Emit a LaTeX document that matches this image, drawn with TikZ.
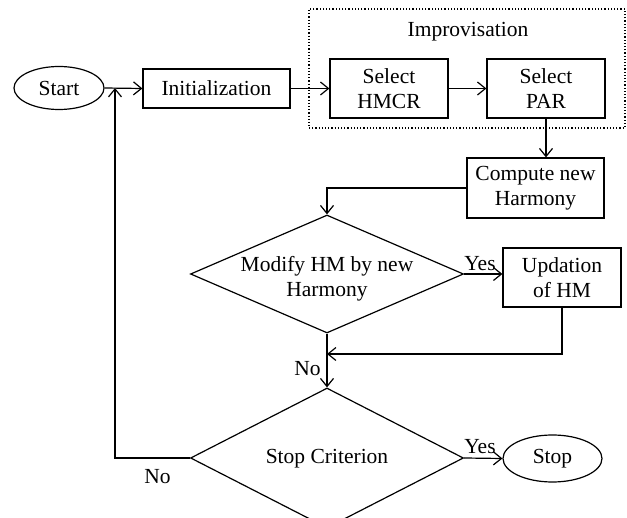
\documentclass[tikz,border=0pt]{standalone}
\usepackage{fontspec}
\setmainfont{Liberation Serif}
\usetikzlibrary{arrows.meta,shapes.geometric}
\tikzset{
  every node/.style={font=\fontsize{21.5}{25}\selectfont, align=center, inner sep=0pt},
  box/.style={draw, line width=1.2pt, rectangle},
  oval/.style={draw, line width=1.2pt, ellipse},
  dia/.style={draw, line width=1.2pt, diamond},
  conn/.style={line width=1.2pt, -{Straight Barb[length=8pt,width=13pt,line width=1.2pt]}},
  plain/.style={line width=1.2pt},
}
\begin{document}
\begin{tikzpicture}[x=1pt,y=-1pt]
\useasboundingbox (0,0) rectangle (627,518);
\clip (0,0) rectangle (627,518);
% nodes
\node[oval, minimum width=90pt, minimum height=43pt] (start) at (59,88) {Start};
\node[box, minimum width=147pt, minimum height=39pt] (init) at (216.5,88.5) {Initialization};
\node[draw, dotted, line width=1.2pt, minimum width=316pt, minimum height=119pt] (impro) at (467,68.5) {};
\node (improlabel) at (468,32) {Improvisation};
\node[box, minimum width=118pt, minimum height=59pt] (hmcr) at (389,88.5) {Select\\HMCR};
\node[box, minimum width=118pt, minimum height=59pt] (par) at (546,88.5) {Select\\PAR};
\node[box, minimum width=137pt, minimum height=60pt] (comp) at (535.5,188) {Compute new\\Harmony};
\node[dia, minimum width=273pt, minimum height=118pt] (d1) at (327,274) {};
\node (d1text) at (327,279) {Modify HM by new\\Harmony};
\node[box, minimum width=118pt, minimum height=59pt] (upd) at (562,277.5) {Updation\\of HM};
\node[dia, minimum width=273pt, minimum height=140pt] (d2) at (327,458) {};
\node (d2text) at (327,459) {Stop Criterion};
\node[oval, minimum width=99pt, minimum height=47pt] (stop) at (552.5,458.5) {Stop};
% labels
\node (yes1) at (480,264) {Yes};
\node (yes2) at (480,447) {Yes};
\node (no1) at (307.5,369) {No};
\node (no2) at (157.5,477) {No};
% coordinates
\coordinate (j) at (115,88);
\coordinate (m) at (327,354);
% connectors
\draw[conn] (start.east) -- (init.west);
\draw[conn] (d2.west) -| (j);
\draw[conn] (init.east) -- (hmcr.west);
\draw[conn] (hmcr.east) -- (par.west);
\draw[conn] (par.south) -- (par.south |- comp.north);
\draw[conn] (comp.west) -| (d1.north);
\draw[conn] (d1.east) -- (d1.east -| upd.west);
\draw[conn] (upd.south) |- (m);
\draw[conn] (d1.south) -- (d2.north);
\draw[conn] (d2.east) -- (stop.west);
\end{tikzpicture}
\end{document}
